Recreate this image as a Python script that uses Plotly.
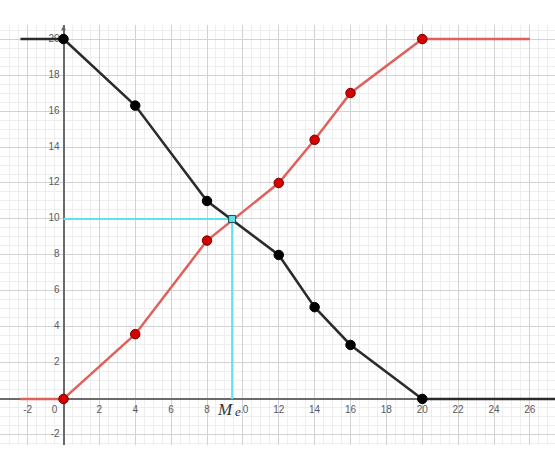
import plotly.graph_objects as go

# ---- data ----
black_x = [0, 4, 8, 12, 14, 16, 20]
black_y = [20, 16.3, 11, 8, 5.1, 3, 0]
red_x = [0, 4, 8, 12, 14, 16, 20]
red_y = [0, 3.6, 8.8, 12, 14.4, 17, 20]
black_ext_left_x = [-2.4, 0]
black_ext_right_x = [20, 27.4]
red_ext_left_x = [-2.4, 0]
red_ext_right_x = [20, 26]
median_x = 9.4
median_y = 10
x_tick_vals = [-2, 2, 4, 6, 8, 10, 12, 14, 16, 18, 20, 22, 24, 26]
y_tick_vals = [-2, 2, 4, 6, 8, 10, 12, 14, 16, 18, 20]

BLACK = "#2b2b2b"
RED_LINE = "#e0605c"
RED_MK = "#d40000"
CYAN = "#5fe3e8"
LABEL = "#5a5a5a"

fig = go.Figure()

# tick labels (drawn first, under lines)
fig.add_trace(go.Scatter(
    x=x_tick_vals, y=[-0.62] * len(x_tick_vals), mode="text",
    text=[str(v) for v in x_tick_vals], textposition="middle center",
    textfont=dict(family="Liberation Sans", size=10, color=LABEL),
    hoverinfo="skip", showlegend=False))
fig.add_trace(go.Scatter(
    x=[-0.5], y=[-0.62], mode="text", text=["0"], textposition="middle center",
    textfont=dict(family="Liberation Sans", size=10, color=LABEL),
    hoverinfo="skip", showlegend=False))
fig.add_trace(go.Scatter(
    x=[-0.22] * len(y_tick_vals), y=y_tick_vals, mode="text",
    text=[str(v) for v in y_tick_vals], textposition="middle left",
    textfont=dict(family="Liberation Sans", size=10, color=LABEL),
    hoverinfo="skip", showlegend=False))

# cyan median guides
fig.add_trace(go.Scatter(
    x=[0, median_x, median_x], y=[median_y, median_y, 0], mode="lines",
    line=dict(color=CYAN, width=2), hoverinfo="skip", showlegend=False))

# extensions
for xs, yv, col in [(black_ext_left_x, black_y[0], BLACK),
                    (black_ext_right_x, black_y[-1], BLACK),
                    (red_ext_left_x, red_y[0], RED_LINE),
                    (red_ext_right_x, red_y[-1], RED_LINE)]:
    fig.add_trace(go.Scatter(x=xs, y=[yv, yv], mode="lines",
                             line=dict(color=col, width=2.5),
                             hoverinfo="skip", showlegend=False))

# main polylines
fig.add_trace(go.Scatter(
    x=red_x, y=red_y, mode="lines+markers",
    line=dict(color=RED_LINE, width=2.5),
    marker=dict(size=9.5, color=RED_MK, line=dict(color="#7a0000", width=1)),
    showlegend=False))
fig.add_trace(go.Scatter(
    x=black_x, y=black_y, mode="lines+markers",
    line=dict(color=BLACK, width=2.5),
    marker=dict(size=9.5, color="#000000", line=dict(color="#000000", width=1)),
    showlegend=False))

# intersection point
fig.add_trace(go.Scatter(
    x=[median_x], y=[median_y], mode="markers",
    marker=dict(size=7, color=CYAN, symbol="square", line=dict(color="#1a4a4a", width=1)),
    showlegend=False))

# Me label
fig.add_annotation(x=9.0, y=-0.6, xref="x", yref="y", text="<i>M</i>", showarrow=False,
                   font=dict(family="Liberation Serif", size=17, color="#333"))
fig.add_annotation(x=9.72, y=-0.68, xref="x", yref="y", text="<i>e</i>", showarrow=False,
                   bgcolor="rgba(255,255,255,0.9)", borderpad=0,
                   font=dict(family="Liberation Serif", size=13, color="#333"))

# y-axis arrow
fig.add_annotation(x=0, y=20.75, ax=0, ay=20.3, xref="x", yref="y", axref="x", ayref="y",
                   text="", showarrow=True, arrowhead=2, arrowsize=0.8, arrowwidth=1.2,
                   arrowcolor="#666")

axis_common = dict(
    showgrid=True, gridcolor="#d2d2d2", gridwidth=1,
    zeroline=True, zerolinecolor="#6a6a6a", zerolinewidth=1.6,
    showticklabels=False, ticks="", showline=False,
    minor=dict(dtick=0.5, showgrid=True, gridcolor="#eeeeee", gridwidth=1),
    fixedrange=True,
)
fig.update_xaxes(range=[-3.54, 27.4], dtick=2, tick0=0, **axis_common)
fig.update_yaxes(range=[-2.56, 20.78], dtick=2, tick0=0, **axis_common)

fig.update_layout(
    width=555, height=470,
    margin=dict(l=0, r=0, t=25, b=25),
    paper_bgcolor="white", plot_bgcolor="white",
    showlegend=False,
)

fig.write_html("out.html", config={"displayModeBar": False},
               post_script="document.body.style.margin='0';document.body.style.overflow='hidden';")
